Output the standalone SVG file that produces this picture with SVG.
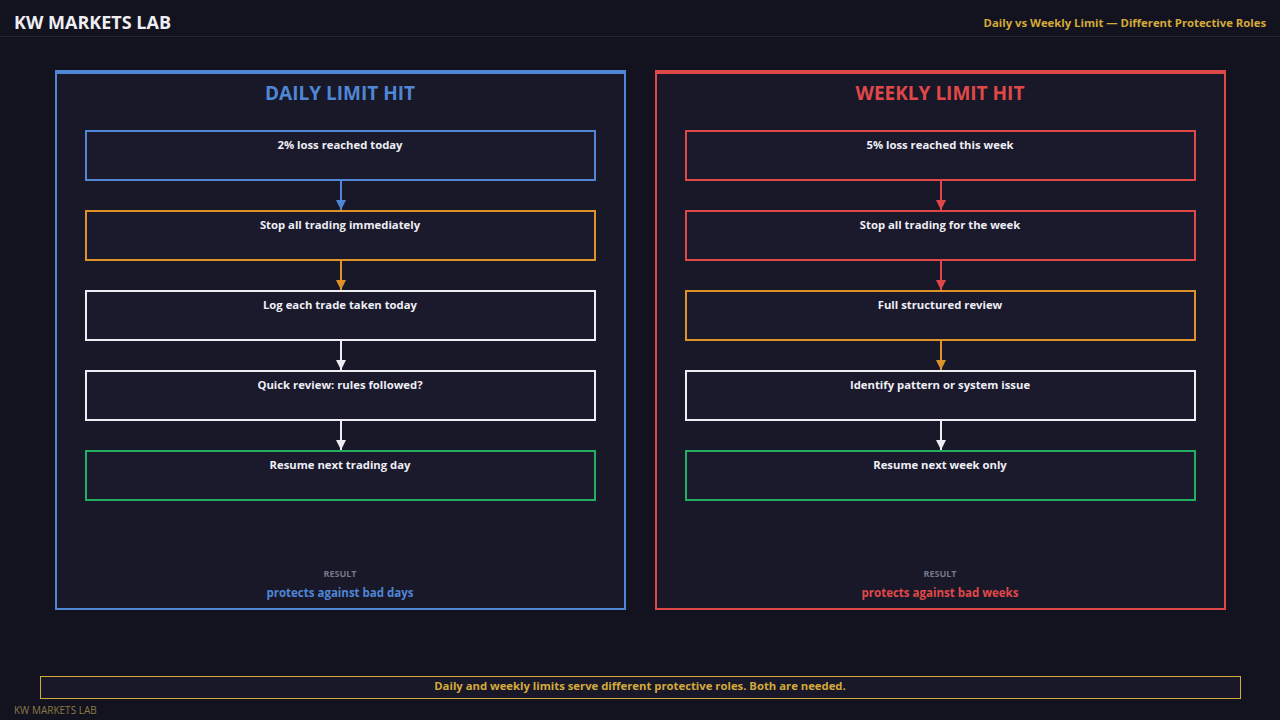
<svg xmlns="http://www.w3.org/2000/svg" width="1280" height="720" viewBox="0 0 1280 720">
<style>
text{font-family:"Open Sans","Noto Sans","Liberation Sans",sans-serif;font-weight:700}
.box{fill:#1b1a2d;stroke-width:2}
.bt{fill:#eeeef4;font-size:11.3px;text-anchor:middle}
.pt{font-size:19px;text-anchor:middle}
.res{fill:#77778a;font-size:9px;text-anchor:middle}
.rt{font-size:11.5px;text-anchor:middle}
.b{stroke:#4f86d6}.r{stroke:#e04848}.o{stroke:#e0922a}.w{stroke:#ececf2}.g{stroke:#22b060}
</style>
<defs>
<marker id="mb" viewBox="0 0 10 10" refX="10" refY="5" markerWidth="10" markerHeight="12" markerUnits="userSpaceOnUse" orient="auto"><path d="M0,0L10,5L0,10z" fill="#4f86d6"/></marker>
<marker id="mr" viewBox="0 0 10 10" refX="10" refY="5" markerWidth="10" markerHeight="12" markerUnits="userSpaceOnUse" orient="auto"><path d="M0,0L10,5L0,10z" fill="#e04848"/></marker>
<marker id="mo" viewBox="0 0 10 10" refX="10" refY="5" markerWidth="10" markerHeight="12" markerUnits="userSpaceOnUse" orient="auto"><path d="M0,0L10,5L0,10z" fill="#e0922a"/></marker>
<marker id="mw" viewBox="0 0 10 10" refX="10" refY="5" markerWidth="10" markerHeight="12" markerUnits="userSpaceOnUse" orient="auto"><path d="M0,0L10,5L0,10z" fill="#ececf2"/></marker>
</defs>
<rect width="1280" height="720" fill="#13131f"/>
<line x1="0" y1="36.5" x2="1280" y2="36.5" stroke="#25253a"/>
<text x="14" y="29" fill="#eeeef4" font-size="18">KW MARKETS LAB</text>
<text x="1266" y="27" fill="#d4aa3a" font-size="11.3" text-anchor="end">Daily vs Weekly Limit — Different Protective Roles</text>

<g id="panel-daily">
<rect x="56" y="73" width="569" height="536" fill="#181828" stroke="#4f86d6" stroke-width="2"/>
<rect x="55" y="70" width="571" height="4" fill="#4f86d6"/>
<text class="pt" x="340" y="100" fill="#4f86d6">DAILY LIMIT HIT</text>
<text class="res" x="340" y="577">RESULT</text>
<text class="rt" x="340" y="597" fill="#4f86d6">protects against bad days</text>
</g>
<g id="panel-weekly">
<rect x="656" y="73" width="569" height="536" fill="#181828" stroke="#e04848" stroke-width="2"/>
<rect x="655" y="70" width="571" height="4" fill="#e04848"/>
<text class="pt" x="940" y="100" fill="#e04848">WEEKLY LIMIT HIT</text>
<text class="res" x="940" y="577">RESULT</text>
<text class="rt" x="940" y="597" fill="#e04848">protects against bad weeks</text>
</g>

<g id="d1"><rect class="box b" x="86" y="131" width="509" height="49"/><text class="bt" x="340" y="149">2% loss reached today</text></g>
<g id="d2"><rect class="box o" x="86" y="211" width="509" height="49"/><text class="bt" x="340" y="229">Stop all trading immediately</text></g>
<g id="d3"><rect class="box w" x="86" y="291" width="509" height="49"/><text class="bt" x="340" y="309">Log each trade taken today</text></g>
<g id="d4"><rect class="box w" x="86" y="371" width="509" height="49"/><text class="bt" x="340" y="389">Quick review: rules followed?</text></g>
<g id="d5"><rect class="box g" x="86" y="451" width="509" height="49"/><text class="bt" x="340" y="469">Resume next trading day</text></g>

<g id="w1"><rect class="box r" x="686" y="131" width="509" height="49"/><text class="bt" x="940" y="149">5% loss reached this week</text></g>
<g id="w2"><rect class="box r" x="686" y="211" width="509" height="49"/><text class="bt" x="940" y="229">Stop all trading for the week</text></g>
<g id="w3"><rect class="box o" x="686" y="291" width="509" height="49"/><text class="bt" x="940" y="309">Full structured review</text></g>
<g id="w4"><rect class="box w" x="686" y="371" width="509" height="49"/><text class="bt" x="940" y="389">Identify pattern or system issue</text></g>
<g id="w5"><rect class="box g" x="686" y="451" width="509" height="49"/><text class="bt" x="940" y="469">Resume next week only</text></g>

<g id="connectors" stroke-width="2" fill="none">
<line x1="341" y1="181" x2="341" y2="210" stroke="#4f86d6" marker-end="url(#mb)"/>
<line x1="341" y1="261" x2="341" y2="290" stroke="#e0922a" marker-end="url(#mo)"/>
<line x1="341" y1="341" x2="341" y2="370" stroke="#ececf2" marker-end="url(#mw)"/>
<line x1="341" y1="421" x2="341" y2="450" stroke="#ececf2" marker-end="url(#mw)"/>
<line x1="941" y1="181" x2="941" y2="210" stroke="#e04848" marker-end="url(#mr)"/>
<line x1="941" y1="261" x2="941" y2="290" stroke="#e04848" marker-end="url(#mr)"/>
<line x1="941" y1="341" x2="941" y2="370" stroke="#e0922a" marker-end="url(#mo)"/>
<line x1="941" y1="421" x2="941" y2="450" stroke="#ececf2" marker-end="url(#mw)"/>
</g>

<g id="footer">
<rect x="40.5" y="676.5" width="1200" height="22" fill="#181828" stroke="#d4aa3a"/>
<text x="640" y="690" fill="#d4aa3a" font-size="11.3" text-anchor="middle">Daily and weekly limits serve different protective roles. Both are needed.</text>
<text x="14" y="714" fill="#8a7a45" font-size="10" style="font-weight:400">KW MARKETS LAB</text>
</g>
</svg>
